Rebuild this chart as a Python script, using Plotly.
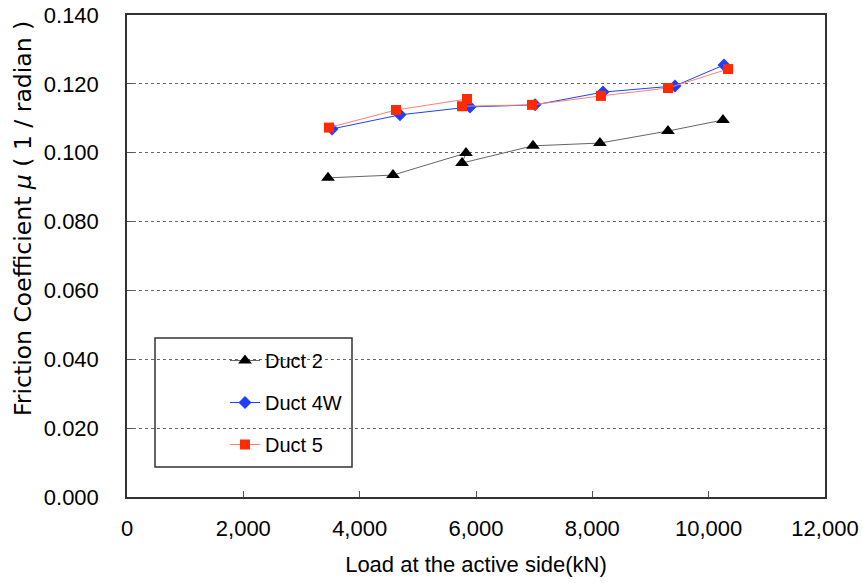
import plotly.graph_objects as go

duct2_x = [3456, 4573, 5828, 5760, 6980, 8131, 9300, 10246]
duct2_y = [0.0927, 0.0935, 0.0999, 0.0970, 0.1020, 0.1028, 0.1063, 0.1095]

duct4w_x = [3525, 4694, 5897, 7015, 8183, 9421, 10264]
duct4w_y = [0.1069, 0.1110, 0.1133, 0.1139, 0.1176, 0.1194, 0.1255]

duct5_x = [3472, 4625, 5845, 5759, 6963, 8148, 9301, 10333]
duct5_y = [0.1073, 0.1124, 0.1156, 0.1135, 0.1139, 0.1165, 0.1188, 0.1243]

x_ticks = [0, 2000, 4000, 6000, 8000, 10000, 12000]
y_ticks = [0.0, 0.02, 0.04, 0.06, 0.08, 0.10, 0.12, 0.14]

FONT = "Liberation Sans"

fig = go.Figure()
fig.add_trace(go.Scatter(
    x=duct2_x, y=duct2_y, name="Duct 2", mode="lines+markers",
    line=dict(color="#666666", width=1),
    marker=dict(symbol="triangle-up", color="black", size=12),
    legendgroup="a"))
fig.add_trace(go.Scatter(
    x=duct4w_x, y=duct4w_y, name="Duct 4W", mode="lines+markers",
    line=dict(color="#1f3fff", width=1),
    marker=dict(symbol="diamond", color="#1f3fff", size=10),
    legendgroup="b"))
fig.add_trace(go.Scatter(
    x=duct5_x, y=duct5_y, name="Duct 5", mode="lines+markers",
    line=dict(color="#ff7f70", width=1),
    marker=dict(symbol="square", color="#ff2a00", size=10),
    legendgroup="c"))

# legend frame
fig.add_shape(type="rect", xref="paper", yref="paper",
              x0=(155 - 127) / 698, x1=(352 - 127) / 698,
              y0=(497 - 467) / 482, y1=(497 - 338) / 482,
              line=dict(color="#333333", width=1.5), fillcolor="white", layer="between")

# y-axis title (placed as annotation, slightly above the plot-area centre as in the reference)
fig.add_annotation(text="Friction Coefficient <i>μ</i>\u00a0(\u00a01\u00a0/\u00a0radian\u00a0)",
                   xref="paper", yref="paper", x=0, y=(497 - 219) / 482,
                   xanchor="center", yanchor="middle", xshift=-104, textangle=-90,
                   showarrow=False, font=dict(family="DejaVu Sans", size=23.5, color="black"))

fig.update_layout(
    width=862, height=583,
    margin=dict(l=127, r=37, t=15, b=86),
    paper_bgcolor="white", plot_bgcolor="white",
    font=dict(family=FONT, size=20, color="black"),
    showlegend=True,
    legend=dict(x=(225 - 127) / 698, y=(497 - 341) / 482, xanchor="left", yanchor="top",
                bgcolor="rgba(0,0,0,0)", borderwidth=0, tracegroupgap=13,
                font=dict(family=FONT, size=20)),
    xaxis=dict(range=[0, 12000], tickvals=x_ticks, tickformat=",d",
               ticks="inside", ticklen=6, tickcolor="#555555",
               showline=True, linecolor="#333333", linewidth=1.5, mirror=True,
               showgrid=False, zeroline=False, automargin=False,
               ticklabelstandoff=11, ticklabeloverflow="allow",
               tickfont=dict(family=FONT, size=22),
               title=dict(text="Load at the active side(kN)", font=dict(family=FONT, size=22), standoff=16)),
    yaxis=dict(range=[0, 0.14], tickvals=y_ticks, tickformat=".3f",
               ticks="inside", ticklen=6, tickcolor="#555555",
               showline=True, linecolor="#333333", linewidth=1.5, mirror=True,
               showgrid=True, gridcolor="#666666", griddash="dot", gridwidth=1,
               zeroline=False, automargin=False,
               ticklabelstandoff=22, ticklabeloverflow="allow",
               tickfont=dict(family=FONT, size=22)),
)

# remove the page's default body margin so the figure sits at the window origin
fig.write_html("out.html", config={"displayModeBar": False},
               post_script="document.body.style.margin='0';")
